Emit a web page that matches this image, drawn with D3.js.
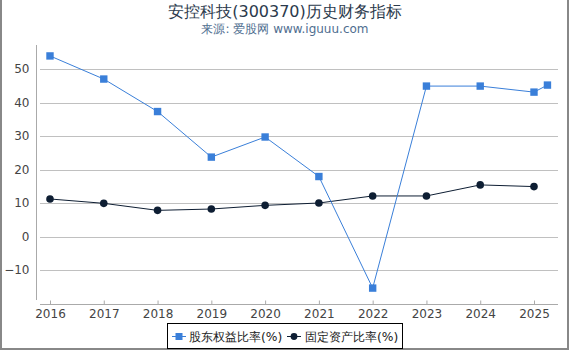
<!DOCTYPE html>
<html><head><meta charset="utf-8">
<script src="https://cdn.jsdelivr.net/npm/d3@7"></script>
<style>body{margin:0;background:#fff}svg{display:block;font-family:"DejaVu Sans",sans-serif}</style>
</head><body><svg id="c" width="570" height="350"></svg>
<script>
const equityX = [2016,2017,2018,2019,2020,2021,2022,2023,2024,2025,2025.25];
const equityY = [53.9,47.0,37.3,23.7,29.7,17.9,-15.4,44.9,44.9,43.1,45.2];
const fixedX = [2016,2017,2018,2019,2020,2021,2022,2023,2024,2025];
const fixedY = [11.2,9.9,7.8,8.2,9.3,10.0,12.1,12.1,15.4,14.9];
const yTicks = [-10,0,10,20,30,40,50];
const xTicks = [2016,2017,2018,2019,2020,2021,2022,2023,2024,2025];
const seriesNames = ["股东权益比率(%)","固定资产比率(%)"];
const title = "安控科技(300370)历史财务指标";
const subtitle = "来源: 爱股网 www.iguuu.com";

const svg = d3.select("#c");
const x = d3.scaleLinear().domain([2016,2025]).range([50,534]);
const y = d3.scaleLinear().domain([0,50]).range([236.5,69]);
const blue = "#3a7fd9", dark = "#0e1e33";

svg.append("rect").attr("x",1).attr("y",-2).attr("width",567).attr("height",351)
  .attr("fill","none").attr("stroke","#888").attr("stroke-width",2);

svg.append("text").attr("x",285).attr("y",17).attr("text-anchor","middle")
  .attr("font-size",16).attr("fill","#2b3a4c").text(title);
svg.append("text").attr("x",285).attr("y",33).attr("text-anchor","middle")
  .attr("font-size",12).attr("fill","#4f6e90").text(subtitle);

// grid
svg.append("g").selectAll("line").data(yTicks).join("line")
  .attr("x1",40).attr("x2",558).attr("y1",d=>Math.round(y(d))+0.5).attr("y2",d=>Math.round(y(d))+0.5)
  .attr("stroke","#c0c0c0").attr("stroke-width",1);

// y axis
const ya = svg.append("g").attr("transform","translate(36.5,0)")
  .call(d3.axisLeft(y).tickValues(yTicks).tickSize(0).tickPadding(7));
ya.select(".domain").remove();
ya.append("line").attr("x1",0).attr("x2",0).attr("y1",45).attr("y2",300).attr("stroke","#aaa");
ya.selectAll("text").attr("font-size",12).attr("fill","#444").attr("font-family","DejaVu Sans");

// x axis
const xa = svg.append("g").attr("transform","translate(0,304.5)")
  .call(d3.axisBottom(x).tickValues(xTicks).tickFormat(d3.format("d")).tickSize(-4).tickPadding(5));
xa.select(".domain").remove();
xa.append("line").attr("x1",40).attr("x2",558).attr("stroke","#aaa");
xa.selectAll(".tick line").attr("stroke","#aaa");
xa.selectAll("text").attr("font-size",12).attr("fill","#444").attr("font-family","DejaVu Sans");

const line = d3.line().x(d=>x(d[0])).y(d=>y(d[1]));
const eq = equityX.map((v,i)=>[v,equityY[i]]);
const fx = fixedX.map((v,i)=>[v,fixedY[i]]);

svg.append("path").datum(fx).attr("d",line).attr("fill","none").attr("stroke",dark).attr("stroke-width",1);
svg.append("path").datum(eq).attr("d",line).attr("fill","none").attr("stroke",blue).attr("stroke-width",1);
svg.append("g").selectAll("circle").data(fx).join("circle")
  .attr("cx",d=>x(d[0])).attr("cy",d=>y(d[1])).attr("r",3.8).attr("fill",dark);
svg.append("g").selectAll("rect").data(eq).join("rect")
  .attr("x",d=>x(d[0])-3.7).attr("y",d=>y(d[1])-3.7).attr("width",7.4).attr("height",7.4).attr("fill",blue);

// legend
const lg = svg.append("g");
lg.append("rect").attr("x",167.5).attr("y",323.5).attr("width",235).attr("height",25)
  .attr("fill","#fff").attr("stroke","#000").attr("stroke-width",1);
lg.append("line").attr("x1",172).attr("x2",186).attr("y1",336.5).attr("y2",336.5).attr("stroke",blue);
lg.append("rect").attr("x",175.5).attr("y",333).attr("width",7).attr("height",7).attr("fill",blue);
lg.append("text").attr("x",189).attr("y",341).attr("font-size",12.3).attr("fill","#222").text(seriesNames[0]);
lg.append("line").attr("x1",287).attr("x2",301).attr("y1",336.5).attr("y2",336.5).attr("stroke",dark);
lg.append("circle").attr("cx",294).attr("cy",336.5).attr("r",3.4).attr("fill",dark);
lg.append("text").attr("x",305).attr("y",341).attr("font-size",12.3).attr("fill","#222").text(seriesNames[1]);
</script></body></html>
